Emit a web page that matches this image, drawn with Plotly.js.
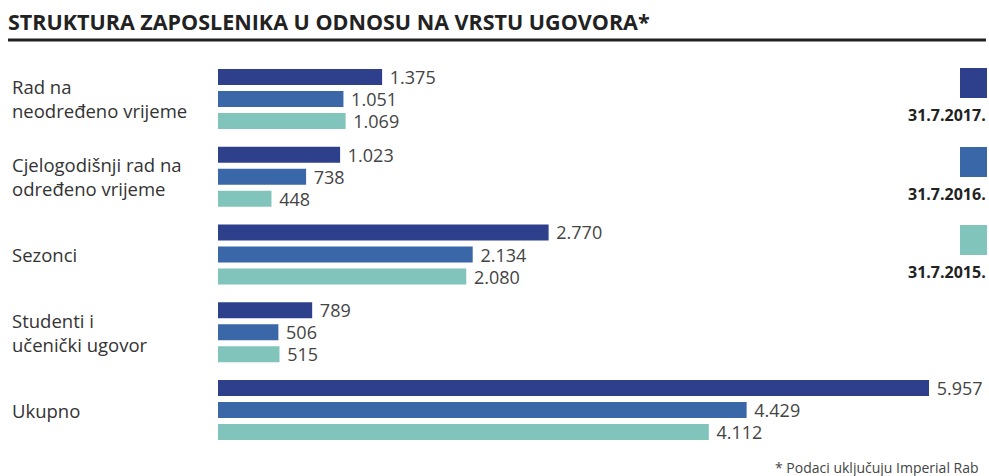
<!DOCTYPE html>
<html>
<head>
<meta charset="utf-8">
<script src="https://cdn.plot.ly/plotly-3.0.1.min.js"></script>
<style>html,body{margin:0;padding:0;background:#fff;}#chart{width:989px;height:476px;}</style>
</head>
<body>
<div id="chart"></div>
<script>
const categories = ['Rad na neodređeno vrijeme', 'Cjelogodišnji rad na određeno vrijeme', 'Sezonci', 'Studenti i učenički ugovor', 'Ukupno'];
const categoryLabels = ['Rad na<br>neodređeno vrijeme', 'Cjelogodišnji rad na<br>određeno vrijeme', 'Sezonci', 'Studenti i<br>učenički ugovor', 'Ukupno'];
const seriesNames = ['31.7.2017.', '31.7.2016.', '31.7.2015.'];
const values2017 = [1375, 1023, 2770, 789, 5957];
const values2016 = [1051, 738, 2134, 506, 4429];
const values2015 = [1069, 448, 2080, 515, 4112];
const titleText = 'STRUKTURA ZAPOSLENIKA U ODNOSU NA VRSTU UGOVORA*';
const footnoteText = '* Podaci uključuju Imperial Rab';

const colors = ['#2E3F8C', '#3A67A8', '#80C4BC'];
const FW = 989, FH = 476;
const L = 218, R = 0, T = 60, B = 27;
const W = FW - L - R, H = FH - T - B;
const px = x => (x - L) / W;
const py = y => (T + H - y) / H;

const allSeries = [values2017, values2016, values2015];
const maxVal = Math.max(...values2017, ...values2016, ...values2015);
const xMax = maxVal * W / (929 - L);

const traces = allSeries.map((vals, i) => ({
  type: 'bar',
  orientation: 'h',
  name: seriesNames[i],
  y: categories,
  x: vals,
  marker: {color: colors[i]},
  texttemplate: '\u00a0%{x:,}',
  textposition: 'outside',
  constraintext: 'none',
  cliponaxis: false,
  textfont: {family: 'Open Sans', size: 18, color: '#444'},
  hoverinfo: 'skip'
}));

const annotations = [];
categories.forEach((c, i) => {
  annotations.push({
    xref: 'paper', yref: 'y', x: px(10), y: c, xanchor: 'left', yanchor: 'middle',
    align: 'left', showarrow: false, text: categoryLabels[i],
    font: {family: 'Open Sans', size: 18.5, color: '#333'}
  });
});
const legendSquareTops = [68, 147, 225];
const shapes = [];
seriesNames.forEach((n, i) => {
  const t = legendSquareTops[i];
  shapes.push({type: 'rect', xref: 'paper', yref: 'paper', x0: px(960), x1: px(987), y0: py(t + 30), y1: py(t),
    fillcolor: colors[i], line: {width: 0}});
  annotations.push({xref: 'paper', yref: 'paper', x: px(988), y: py(t + 47), xanchor: 'right', yanchor: 'middle',
    showarrow: false, text: '<b>' + n + '</b>', font: {family: 'Open Sans', size: 16, color: '#222'}});
});
shapes.push({type: 'line', xref: 'paper', yref: 'paper', x0: px(8), x1: px(986), y0: py(40), y1: py(40),
  line: {color: '#222', width: 3}});
annotations.push({xref: 'paper', yref: 'paper', x: px(981), y: py(456), xanchor: 'right', yanchor: 'top',
  showarrow: false, text: footnoteText, font: {family: 'Open Sans', size: 14, color: '#444'}});

const layout = {
  width: FW, height: FH,
  margin: {l: L, r: R, t: T, b: B, pad: 0},
  paper_bgcolor: '#fff', plot_bgcolor: '#fff',
  separators: ',.',
  showlegend: false,
  barmode: 'group',
  bargap: 0.151,
  bargroupgap: 0.273,
  title: {text: '<b>' + titleText + '</b>', xref: 'container', yref: 'container', x: 8 / FW, xanchor: 'left',
    y: 1 - 22 / FH, yanchor: 'middle', font: {family: 'Open Sans', size: 21.5, color: '#222'}},
  xaxis: {range: [0, xMax], visible: false, fixedrange: true},
  yaxis: {type: 'category', categoryarray: categories, autorange: 'reversed', showticklabels: false,
    showgrid: false, zeroline: false, showline: false, ticks: '', fixedrange: true},
  annotations: annotations,
  shapes: shapes
};

Plotly.newPlot('chart', traces, layout, {displayModeBar: false, staticPlot: true});
</script>
</body>
</html>
